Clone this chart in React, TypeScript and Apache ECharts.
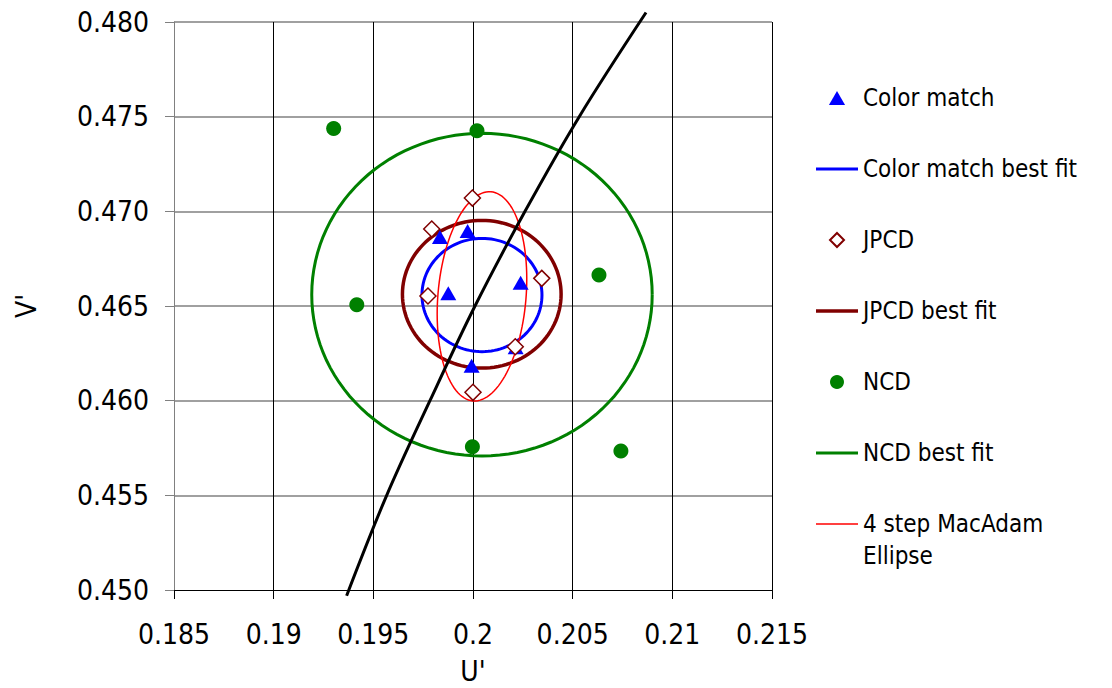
import React, { useEffect, useRef } from 'react';
import * as echarts from 'echarts';

// Scatter observations [u', v']
const colorMatch = [
  [0.19834, 0.46864], [0.19973, 0.46896], [0.19876, 0.46567],
  [0.20239, 0.46623], [0.20214, 0.46282], [0.19993, 0.46185],
];
const jpcd = [
  [0.19793, 0.46907], [0.19997, 0.4707], [0.19774, 0.46553],
  [0.20345, 0.46646], [0.20212, 0.46285], [0.2, 0.46044],
];
const ncd = [
  [0.19301, 0.47438], [0.2002, 0.47426], [0.19417, 0.46507],
  [0.20632, 0.46664], [0.19997, 0.45757], [0.20742, 0.45734],
];
// Ellipse fits: [centre u', centre v', semi-axis a, semi-axis b, rotation (deg)]
const colorMatchFit = [[0.20045, 0.46558, 0.00301, 0.00299, 0]];
const jpcdFit = [[0.20044, 0.46562, 0.00398, 0.0039, 0]];
const ncdFit = [[0.20045, 0.4656, 0.00854, 0.00852, 0]];
const macAdamFit = [[0.20045, 0.46551, 0.00554, 0.00221, 85.4]];
// Black locus line
const locus = [
  [0.19366, 0.4497], [0.19567, 0.455], [0.19784, 0.46], [0.2001, 0.465],
  [0.20261, 0.47], [0.20533, 0.475], [0.20868, 0.4805],
];

const FONT = "'DejaVu Sans Condensed', 'DejaVu Sans', sans-serif";
const MAC_NAME = '4 step MacAdam Ellipse';

const ellipseRenderer = (color: string, width: number) => (params: any, api: any) => {
  const cx = api.value(0), cy = api.value(1), a = api.value(2), b = api.value(3);
  const ang = (api.value(4) * Math.PI) / 180;
  const pts: number[][] = [];
  const N = 120;
  for (let i = 0; i <= N; i++) {
    const t = (i / N) * Math.PI * 2;
    const dx = a * Math.cos(t), dy = b * Math.sin(t);
    const x = cx + dx * Math.cos(ang) - dy * Math.sin(ang);
    const y = cy + dx * Math.sin(ang) + dy * Math.cos(ang);
    pts.push(api.coord([x, y]));
  }
  return {
    type: 'polyline',
    shape: { points: pts },
    style: { stroke: color, lineWidth: width, fill: 'none' },
  };
};

const ellipseSeries = (name: string, data: number[][], color: string, width: number) => ({
  name,
  type: 'custom',
  data,
  dimensions: ['cx', 'cy', 'a', 'b', 'ang'],
  encode: { x: 0, y: 1 },
  renderItem: ellipseRenderer(color, width),
  itemStyle: { color },
  clip: false,
  z: 2,
});

export default function App() {
  const ref = useRef<HTMLDivElement>(null);
  useEffect(() => {
    if (!ref.current) return;
    const chart = echarts.init(ref.current, null, { renderer: 'svg' });
    chart.setOption({
      animation: false,
      backgroundColor: '#fff',
      grid: { left: 174, right: 340, top: 22, bottom: 98, outerBoundsMode: 'none' },
      xAxis: {
        type: 'value',
        min: 0.185,
        max: 0.215,
        interval: 0.005,
        name: "U'",
        nameLocation: 'middle',
        nameGap: 67,
        nameTextStyle: { fontSize: 28, fontFamily: FONT, color: '#000' },
        axisLine: { show: true, onZero: false, lineStyle: { color: '#000', width: 1 } },
        axisTick: { show: true, length: 9, lineStyle: { color: '#000' } },
        axisLabel: { fontSize: 28, fontFamily: FONT, color: '#000', margin: 30 },
        splitLine: { show: true, showMinLine: false, lineStyle: { color: '#000', width: 1 } },
      },
      yAxis: {
        type: 'value',
        min: 0.45,
        max: 0.48,
        interval: 0.005,
        name: "V'",
        nameLocation: 'middle',
        nameGap: 134,
        nameTextStyle: { fontSize: 28, fontFamily: FONT, color: '#000' },
        axisLine: { show: true, onZero: false, lineStyle: { color: '#808080', width: 1 } },
        axisTick: { show: true, length: 9, lineStyle: { color: '#808080' } },
        axisLabel: {
          fontSize: 28, fontFamily: FONT, color: '#000', margin: 25,
          formatter: (v: number) => v.toFixed(3),
        },
        splitLine: { show: true, showMinLine: false, lineStyle: { color: '#808080', width: 1.5 } },
      },
      legend: {
        orient: 'vertical',
        left: 816,
        top: 83,
        padding: 0,
        itemWidth: 42,
        itemHeight: 14,
        itemGap: 41,
        symbolKeepAspect: true,
        textStyle: { fontSize: 24, fontFamily: FONT, color: '#000', lineHeight: 30 },
        formatter: (name: string) => (name === MAC_NAME ? '4 step MacAdam' : name),
        data: [
          { name: 'Color match', icon: 'path://M7.5,0L15,13L0,13Z' },
          { name: 'Color match best fit', icon: 'path://M0,0H42V3H0Z' },
          { name: 'JPCD', icon: 'path://M7,0L14,7L7,14L0,7Z' },
          { name: 'JPCD best fit', icon: 'path://M0,0H42V3.5H0Z' },
          { name: 'NCD', icon: 'circle' },
          { name: 'NCD best fit', icon: 'path://M0,0H42V3H0Z' },
          { name: MAC_NAME, icon: 'path://M0,0H42V1.5H0Z' },
        ],
      },
      graphic: [
        {
          type: 'text',
          x: 863,
          y: 556,
          style: {
            text: 'Ellipse', fontSize: 24, fontFamily: FONT, fill: '#000',
            align: 'left', verticalAlign: 'middle',
          },
        },
      ],
      series: [
        ellipseSeries('Color match best fit', colorMatchFit, '#0000ff', 3),
        ellipseSeries('JPCD best fit', jpcdFit, '#800000', 3.5),
        ellipseSeries('NCD best fit', ncdFit, '#008000', 3),
        ellipseSeries(MAC_NAME, macAdamFit, '#ff0000', 1.5),
        {
          name: 'Locus',
          type: 'line',
          data: locus,
          showSymbol: false,
          symbol: 'none',
          smooth: 0.35,
          clip: false,
          lineStyle: { color: '#000', width: 3 },
          itemStyle: { color: '#000' },
          z: 3,
        },
        {
          name: 'Color match',
          type: 'scatter',
          data: colorMatch,
          symbol: 'triangle',
          symbolSize: [16, 14],
          itemStyle: { color: '#0000ff', opacity: 1 },
          z: 4,
        },
        {
          name: 'JPCD',
          type: 'scatter',
          data: jpcd,
          symbol: 'diamond',
          symbolSize: 16,
          itemStyle: { color: '#ffffff', borderColor: '#800000', borderWidth: 1.5, opacity: 1 },
          z: 5,
        },
        {
          name: 'NCD',
          type: 'scatter',
          data: ncd,
          symbol: 'circle',
          symbolSize: 15,
          itemStyle: { color: '#008000', opacity: 1 },
          z: 4,
        },
      ],
    });
    return () => chart.dispose();
  }, []);
  return (
    <div
      ref={ref}
      style={{ position: 'absolute', left: 0, top: 0, width: 1112, height: 688, background: '#fff' }}
    />
  );
}
